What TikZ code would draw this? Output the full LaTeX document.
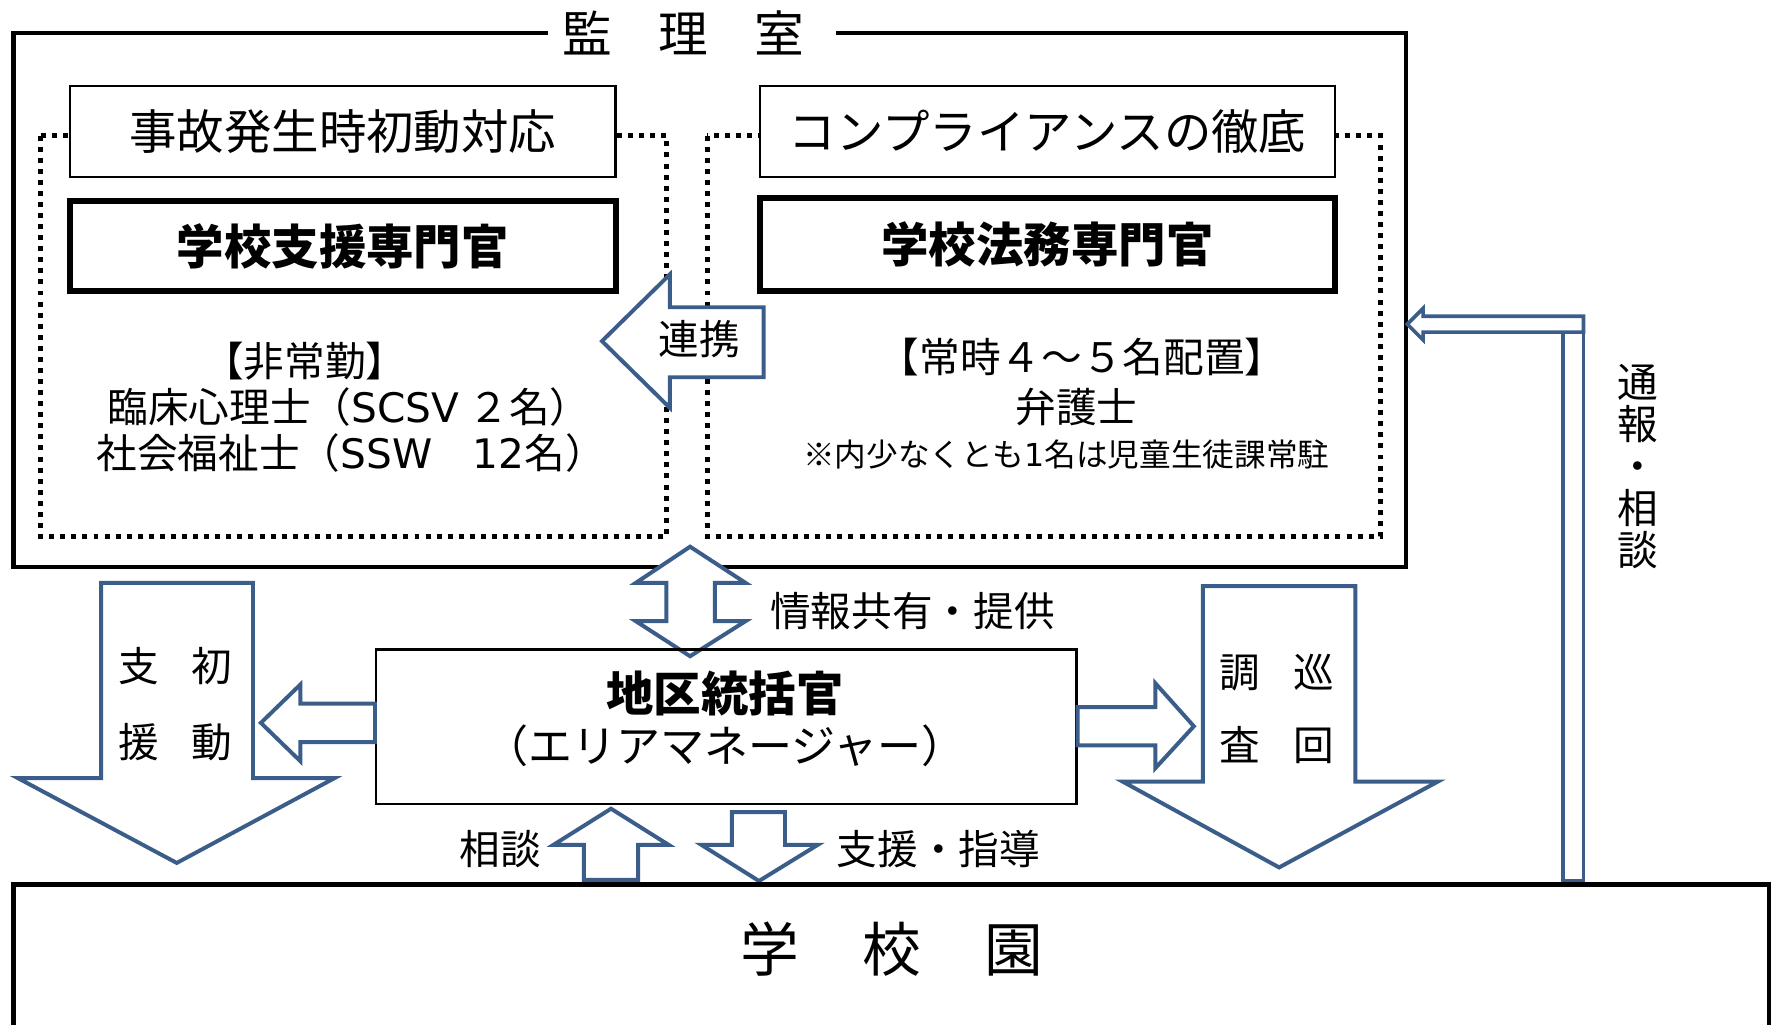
\documentclass[tikz,border=0pt]{standalone}
\usepackage{fontspec}
\setmainfont{Noto Sans CJK JP}
\newfontfamily\lat{DejaVu Sans}
\definecolor{arrowblue}{RGB}{59,93,138}
\newcommand{\setfs}[1]{\fontsize{#1}{#1}\selectfont}
\tikzset{
  frame/.style={line width=2pt, line join=miter},
  dotbox/.style={line width=2.2pt, dash pattern=on 2.2pt off 2.7pt},
  thinbox/.style={draw, line width=1pt, fill=white, inner sep=0pt},
  boldbox/.style={draw, line width=2.6pt, fill=white, inner sep=0pt},
  blockarrow/.style={draw=arrowblue, line width=1.75pt, fill=white, line join=miter},
  slimarrow/.style={draw=arrowblue, line width=1.6pt, fill=white, line join=miter},
  lbl/.style={inner sep=0pt, font=\setfs{18pt}},
}
\begin{document}
\begin{tikzpicture}[x=0.5pt,y=-0.5pt]
\useasboundingbox (0,0) rectangle (1568,907);
\clip (0,0) rectangle (1568,907);

% outer frame 監理室
\draw[frame] (485,29) -- (12,29) -- (12,502) -- (1245,502) -- (1245,29) -- (740,29);
\node[inner sep=0pt, font=\setfs{22pt}] (kanri) at (605,29) {監\hspace{20.5pt}理\hspace{20.5pt}室};

% dotted groups
\draw[dotbox] (36,120) rectangle (590,475);
\draw[dotbox] (626,120) rectangle (1222,475);

% left group
\node[thinbox, minimum width=241.5pt, minimum height=40.5pt, font=\setfs{21pt}] (jiko) at (303.5,116.5) {事故発生時初動対応};
\node[boldbox, minimum width=241.5pt, minimum height=40pt, font=\bfseries\setfs{21pt}] (shien) at (303.5,218) {学校支援専門官};
\node[lbl] (hijo) at (270,320) {【非常勤】};
\node[lbl] (rinsho) at (309,360) {臨床心理士（{\lat SCSV} ２名）};
\node[lbl] (shakai) at (311,401) {社会福祉士（{\lat SSW}　{\lat 12}名）};

% right group
\node[thinbox, minimum width=254.5pt, minimum height=40.5pt, font=\setfs{21pt}] (comp) at (927.5,116.5) {コンプライアンスの徹底};
\node[boldbox, minimum width=254.5pt, minimum height=41.5pt, font=\bfseries\setfs{21pt}] (houmu) at (927.5,216.5) {学校法務専門官};
\node[lbl] (joji) at (958,316) {【常時４～５名配置】};
\node[lbl] (bengo) at (953,360) {弁護士};
\node[inner sep=0pt, font=\setfs{14pt}] (note) at (944,402) {※内少なくとも{\lat 1}名は児童生徒課常駐};

% 連携 arrow
\draw[blockarrow] (533,302) -- (593,243) -- (593,272) -- (676,272) -- (676,334) -- (593,334) -- (593,361) -- cycle;
\node[lbl] (renkei) at (619,300) {連携};

% 情報共有 double arrow
\draw[blockarrow] (611,484) -- (660,516) -- (633,516) -- (633,550) -- (660,550) -- (611,581) -- (563,550) -- (590,550) -- (590,516) -- (563,516) -- cycle;
\node[lbl] (joho) at (808,541) {情報共有・提供};

% 地区統括官
\node[draw, line width=1pt, minimum width=310pt, minimum height=68.5pt, inner sep=0pt] (chiku) at (643,643.5) {};
\node[inner sep=0pt, font=\bfseries\setfs{21pt}] (chikut) at (642,614) {地区統括官};
\node[inner sep=0pt, font=\setfs{19.5pt}] (area) at (642,660) {（エリアマネージャー）};

% left block arrow
\draw[blockarrow] (231,640) -- (266,606) -- (266,623) -- (chiku.west |- 0,623) -- (chiku.west |- 0,657) -- (266,657) -- (266,674) -- cycle;
% 初動支援 down arrow
\draw[blockarrow] (89.5,516) -- (224,516) -- (224,689) -- (296,689) -- (156.5,764) -- (16,689) -- (89.5,689) -- cycle;
\node[inner sep=0pt, align=center, font=\fontsize{18pt}{33.5pt}\selectfont] (shodo) at (155.5,623.5) {支\hspace{14.5pt}初\\援\hspace{14.5pt}動};

% right block arrow
\draw[blockarrow] (chiku.east |- 0,626) -- (1023,626) -- (1023,605) -- (1057,643) -- (1023,680) -- (1023,660) -- (chiku.east |- 0,660) -- cycle;
% 巡回調査 down arrow
\draw[blockarrow] (1065,519) -- (1200,519) -- (1200,692) -- (1273,692) -- (1132.5,768) -- (994,692) -- (1065,692) -- cycle;
\node[inner sep=0pt, align=center, font=\fontsize{18pt}{32.5pt}\selectfont] (junkai) at (1130.5,627.5) {調\hspace{14.5pt}巡\\査\hspace{14.5pt}回};

% 相談 up arrow
\draw[blockarrow] (517,779) -- (517,748) -- (490,748) -- (541,716) -- (592,748) -- (565,748) -- (565,779) -- cycle;
\node[lbl] (sodan) at (443,752) {相談};
% 支援・指導 down arrow
\draw[blockarrow] (648,719) -- (695,719) -- (695,748) -- (724,748) -- (672,780) -- (621,748) -- (648,748) -- cycle;
\node[lbl] (shido) at (831,752) {支援・指導};

% 通報・相談 bent arrow
\draw[slimarrow] (1384,294) rectangle (1402,780);
\draw[slimarrow] (1246,287) -- (1260,273) -- (1260,280) -- (1402,280) -- (1402,294) -- (1260,294) -- (1260,301) -- cycle;
\node[inner sep=0pt, align=center, font=\fontsize{18pt}{18.5pt}\selectfont] (tsuho) at (1450,413) {通\\報\\・\\相\\談};

% 学校園
\draw[frame] (12,783) rectangle (1566,960);
\node[inner sep=0pt, font=\setfs{26pt}] (gakko) at (790,840) {学\hspace{28pt}校\hspace{28pt}園};
\end{tikzpicture}
\end{document}
